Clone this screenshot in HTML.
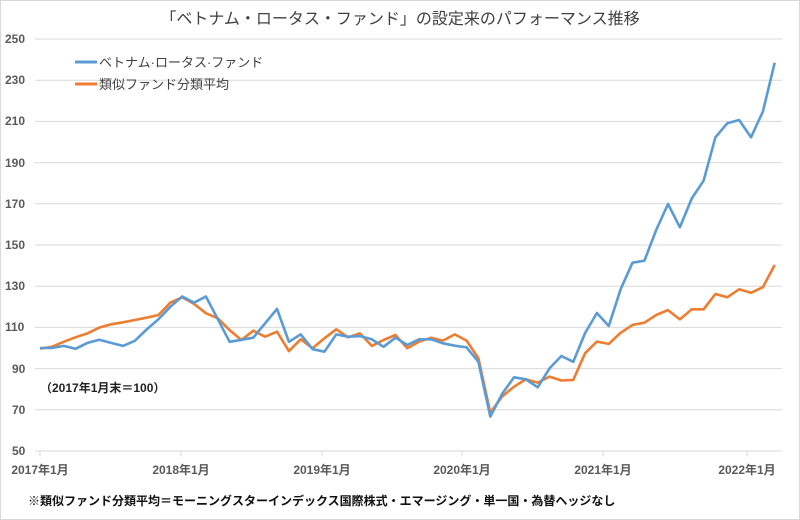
<!DOCTYPE html>
<html><head><meta charset="utf-8"><style>
html,body{margin:0;padding:0;background:#fff;}
svg{display:block;font-family:"Liberation Sans","Noto Sans CJK JP",sans-serif;}
</style></head><body>
<svg width="800" height="520" viewBox="0 0 800 520" xmlns="http://www.w3.org/2000/svg">
<rect x="0.5" y="0.5" width="799" height="519" fill="#fff" stroke="#d9d9d9"/>
<text x="400" y="24" text-anchor="middle" font-size="16" fill="#404040">「ベトナム・ロータス・ファンド」の設定来のパフォーマンス推移</text>
<g stroke="#d9d9d9" stroke-width="1">
<line x1="35" x2="782" y1="39" y2="39"/><line x1="35" x2="782" y1="80.2" y2="80.2"/>
<line x1="35" x2="782" y1="121.4" y2="121.4"/><line x1="35" x2="782" y1="162.6" y2="162.6"/>
<line x1="35" x2="782" y1="203.8" y2="203.8"/><line x1="35" x2="782" y1="245" y2="245"/>
<line x1="35" x2="782" y1="286.2" y2="286.2"/><line x1="35" x2="782" y1="327.4" y2="327.4"/>
<line x1="35" x2="782" y1="368.6" y2="368.6"/><line x1="35" x2="782" y1="409.8" y2="409.8"/>
<line x1="35" x2="782" y1="451" y2="451"/>
<line x1="40" x2="40" y1="451" y2="456"/><line x1="181" x2="181" y1="451" y2="456"/>
<line x1="322" x2="322" y1="451" y2="456"/><line x1="462" x2="462" y1="451" y2="456"/>
<line x1="603" x2="603" y1="451" y2="456"/><line x1="747" x2="747" y1="451" y2="456"/>
</g>
<g font-size="12" font-weight="bold" fill="#595959">
<text x="5" y="43">250</text><text x="5" y="84">230</text><text x="5" y="125">210</text>
<text x="5" y="167">190</text><text x="5" y="208">170</text><text x="5" y="249">150</text>
<text x="5" y="290">130</text><text x="5" y="331">110</text><text x="12" y="373">90</text>
<text x="12" y="414">70</text><text x="12" y="455">50</text>
</g>
<g font-size="12" font-weight="bold" fill="#595959" text-anchor="middle">
<text x="40" y="474">2017年1月</text><text x="181" y="474">2018年1月</text>
<text x="322" y="474">2019年1月</text><text x="462" y="474">2020年1月</text>
<text x="603" y="474">2021年1月</text><text x="747" y="474">2022年1月</text>
</g>
<text x="40" y="392" font-size="12" font-weight="bold" fill="#222">（2017年1月末＝100）</text>
<text x="28" y="505" font-size="12" font-weight="bold" fill="#111">※類似ファンド分類平均＝モーニングスターインデックス国際株式・エマージング・単一国・為替ヘッジなし</text>
<line x1="75" x2="97" y1="62" y2="62" stroke="#5b9bd5" stroke-width="3"/>
<text x="99" y="67" font-size="13" fill="#404040">ベトナム·ロータス·ファンド</text>
<line x1="75" x2="97" y1="84" y2="84" stroke="#ed7d31" stroke-width="3"/>
<text x="99" y="89" font-size="13" fill="#404040">類似ファンド分類平均</text>
<polyline id="o" fill="none" stroke="#ed7d31" stroke-width="2.6" stroke-linejoin="round" points=""/>
<polyline id="b" fill="none" stroke="#5b9bd5" stroke-width="2.6" stroke-linejoin="round" points=""/>
<script>
var B=[100,100,101,99.6,102.5,104,102.5,101,103.5,109,114,120,125,122,125,114,103,104,105,112,119,103,106.6,99.4,98.2,106.6,105.5,105.8,104.2,100.6,105,101.5,104.2,104.2,102.3,101.1,100.3,93.3,66.7,77.7,85.8,84.8,80.9,90.1,96.1,93.3,107.3,117,110.7,128.5,141.4,142.4,157.3,169.9,158.6,172.6,181.2,202.3,209.1,210.7,202.3,214.8,238.5];
var O=[99.7,100.6,103,105.2,107.1,109.9,111.5,112.5,113.6,114.7,116,122,124.6,121.4,116.9,114.4,108.7,103.9,108.4,105.5,107.9,98.5,104.2,99.9,104.7,109.1,105.2,107.1,101,103.9,106.3,99.9,103.1,105,103.6,106.6,103.6,95,68.6,76.4,81.2,84.8,83.2,86.1,84.2,84.5,97.5,103.1,102,107.4,111.2,112.3,116,118.4,113.9,118.8,118.8,126.2,124.6,128.5,126.8,129.5,140.3];
function p(a){return a.map(function(v,i){return (40+i*11.85).toFixed(1)+","+(39+(250-v)*2.06).toFixed(1)}).join(" ");}
document.getElementById("b").setAttribute("points",p(B));
document.getElementById("o").setAttribute("points",p(O));
</script>
</svg>
</body></html>
